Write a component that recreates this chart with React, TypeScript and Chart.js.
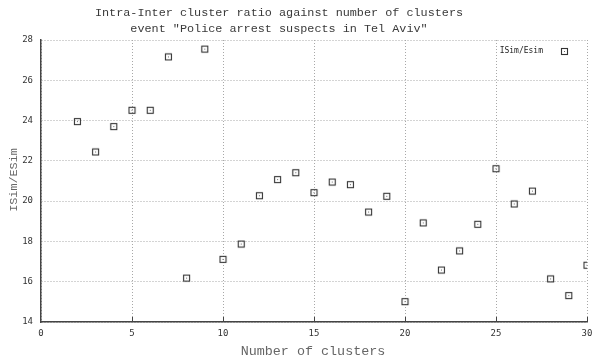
import React, { useEffect, useRef } from "react";
import { Chart, registerables } from "chart.js";

Chart.register(...registerables);

const titleLines = [
  "Intra-Inter cluster ratio against number of clusters",
  'event "Police arrest suspects in Tel Aviv"',
];
const xTitle = "Number of clusters";
const yTitle = "ISim/ESim";
const seriesLabel = "ISim/Esim";

const clusters = [2, 3, 4, 5, 6, 7, 8, 9, 10, 11, 12, 13, 14, 15, 16, 17, 18, 19, 20, 21, 22, 23, 24, 25, 26, 27, 28, 29, 30];
const ratios = [
  23.95, 22.44, 23.7, 24.51, 24.51, 27.16, 16.18, 27.55, 17.11, 17.87, 20.27, 21.07, 21.41, 20.42,
  20.95, 20.82, 19.46, 20.24, 15.01, 18.92, 16.58, 17.53, 18.85, 21.61, 19.86, 20.5, 16.14, 15.31, 16.82,
];

const xMin = 0;
const xMax = 30;
const xStep = 5;
const yMin = 14;
const yMax = 28;
const yStep = 2;

function makeMarker(): HTMLCanvasElement {
  const c = document.createElement("canvas");
  c.width = 9;
  c.height = 9;
  const g = c.getContext("2d")!;
  g.strokeStyle = "#333";
  g.lineWidth = 1.1;
  g.strokeRect(1.5, 1.5, 6, 6);
  g.fillStyle = "#666";
  g.fillRect(4, 4, 1, 1);
  return c;
}

export default function App() {
  const ref = useRef<HTMLCanvasElement | null>(null);

  useEffect(() => {
    const canvas = ref.current;
    if (!canvas) return;
    const marker = makeMarker();

    const decorPlugin = {
      id: "decor",
      afterDraw(chart: any) {
        const ctx = chart.ctx as CanvasRenderingContext2D;
        const area = chart.chartArea;
        const xs = chart.scales.x;
        ctx.save();
        ctx.fillStyle = "#3a3a3a";
        ctx.font = '11.8px "Liberation Mono", monospace';
        ctx.textAlign = "center";
        ctx.textBaseline = "middle";
        ctx.fillText(titleLines[0], 279, 13);
        ctx.fillText(titleLines[1], 279, 29);
        ctx.fillStyle = "#666";
        ctx.font = '13.4px "Liberation Mono", monospace';
        ctx.fillText(xTitle, 313, 351);
        ctx.save();
        ctx.translate(14, 180);
        ctx.rotate(-Math.PI / 2);
        ctx.font = '11.8px "Liberation Mono", monospace';
        ctx.fillText(yTitle, 0, 0);
        ctx.restore();
        ctx.strokeStyle = "#444";
        ctx.lineWidth = 1;
        for (let v = xMin + xStep; v <= xMax; v += xStep) {
          const px = Math.round(xs.getPixelForValue(v)) + 0.5;
          ctx.beginPath();
          ctx.moveTo(px, area.bottom);
          ctx.lineTo(px, area.bottom - 5);
          ctx.stroke();
        }
        ctx.fillStyle = "#222";
        ctx.font = '8px "DejaVu Sans Mono", monospace';
        ctx.textAlign = "right";
        ctx.fillText(seriesLabel, area.right - 44, area.top + 11);
        ctx.drawImage(marker, Math.round(area.right - 23 - 4.5), Math.round(area.top + 11 - 4.5));
        ctx.restore();
      },
    };

    const chart = new Chart(canvas, {
      type: "scatter",
      data: {
        datasets: [
          {
            label: seriesLabel,
            data: clusters.map((c, i) => ({ x: c, y: ratios[i] })),
            pointStyle: marker as any,
            pointRadius: 4,
            showLine: false,
          },
        ],
      },
      options: {
        animation: false,
        responsive: true,
        maintainAspectRatio: false,
        layout: { padding: { top: 40, right: 3, left: 0, bottom: 0 } },
        plugins: {
          legend: { display: false },
          title: { display: false },
          tooltip: { enabled: false },
        },
        scales: {
          x: {
            type: "linear",
            min: xMin,
            max: xMax,
            afterFit(scale: any) {
              scale.height = 36;
              scale.paddingLeft = 0;
              scale.paddingRight = 0;
            },
            ticks: {
              stepSize: xStep,
              padding: 6,
              color: "#333",
              font: { family: '"DejaVu Sans Mono", monospace', size: 9 },
            },
            grid: {
              color: "#a8a8a8",
              lineWidth: 1,
              drawTicks: false,
              tickLength: 0,
            },
            border: { display: true, color: "#444", width: 1.5, dash: [1, 2] },
          },
          y: {
            type: "linear",
            min: yMin,
            max: yMax,
            afterFit(scale: any) {
              scale.width = 41;
              scale.paddingTop = 0;
              scale.paddingBottom = 0;
            },
            ticks: {
              stepSize: yStep,
              padding: 8,
              color: "#333",
              font: { family: '"DejaVu Sans Mono", monospace', size: 9 },
            },
            grid: {
              color: "#a8a8a8",
              lineWidth: 1,
              drawTicks: false,
              tickLength: 0,
            },
            border: { display: true, color: "#444", width: 1.5, dash: [1, 2] },
          },
        },
      },
      plugins: [decorPlugin],
    } as any);

    return () => chart.destroy();
  }, []);

  return (
    <div style={{ position: "absolute", left: 0, top: 0, width: 592, height: 358, background: "#fff" }}>
      <canvas ref={ref} />
    </div>
  );
}
